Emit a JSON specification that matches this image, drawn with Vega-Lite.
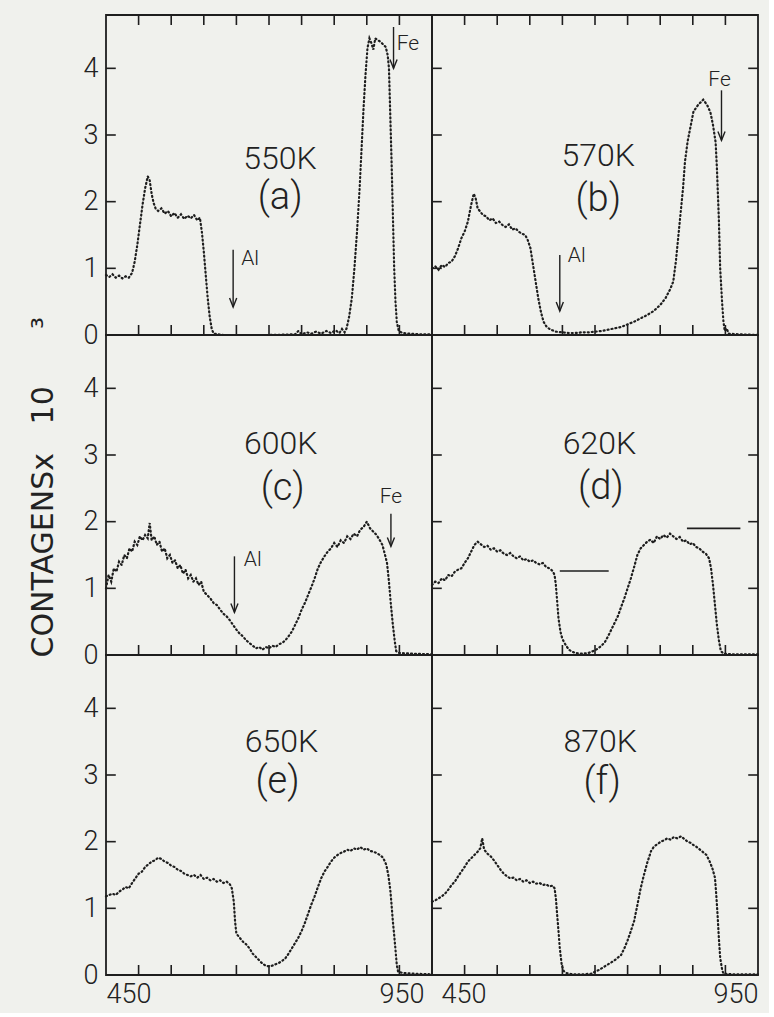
{
  "$schema": "https://vega.github.io/schema/vega-lite/v6.json",
  "background": "#f0f1ed",
  "padding": {"left": 27, "top": 14, "right": 5, "bottom": 5},
  "columns": 2,
  "spacing": 0,
  "bounds": "flush",
  "config": {
    "view": {"stroke": "#1e1e1e", "strokeWidth": 1.8, "fill": null},
    "scale": {"continuousPadding": 0},
    "axis": {
      "domain": false, "grid": false, "ticks": false,
      "labelFont": "Roboto", "labelFontWeight": 300, "labelFontSize": 27, "labelColor": "#222222", "labelPadding": 8
    }
  },
  "datasets": {
    "spec": [
      {"p":"a","ch":450,"v":0.90},{"p":"a","ch":455,"v":0.87},{"p":"a","ch":460,"v":0.91},{"p":"a","ch":465,"v":0.86},{"p":"a","ch":470,"v":0.89},{"p":"a","ch":475,"v":0.85},{"p":"a","ch":480,"v":0.88},{"p":"a","ch":485,"v":0.86},{"p":"a","ch":490,"v":0.93},{"p":"a","ch":494,"v":1.10},{"p":"a","ch":498,"v":1.35},{"p":"a","ch":502,"v":1.65},{"p":"a","ch":506,"v":1.95},{"p":"a","ch":510,"v":2.20},{"p":"a","ch":514,"v":2.38},{"p":"a","ch":517,"v":2.32},{"p":"a","ch":520,"v":2.12},{"p":"a","ch":523,"v":1.98},{"p":"a","ch":526,"v":1.90},{"p":"a","ch":530,"v":1.86},{"p":"a","ch":535,"v":1.90},{"p":"a","ch":540,"v":1.82},{"p":"a","ch":545,"v":1.86},{"p":"a","ch":550,"v":1.78},{"p":"a","ch":555,"v":1.83},{"p":"a","ch":560,"v":1.76},{"p":"a","ch":565,"v":1.81},{"p":"a","ch":570,"v":1.74},{"p":"a","ch":575,"v":1.79},{"p":"a","ch":580,"v":1.75},{"p":"a","ch":585,"v":1.80},{"p":"a","ch":590,"v":1.72},{"p":"a","ch":594,"v":1.76},{"p":"a","ch":597,"v":1.55},{"p":"a","ch":600,"v":1.25},{"p":"a","ch":603,"v":0.90},{"p":"a","ch":606,"v":0.55},{"p":"a","ch":609,"v":0.28},{"p":"a","ch":612,"v":0.10},{"p":"a","ch":615,"v":0.02},{"p":"a","ch":630,"v":0},{"p":"a","ch":660,"v":0},{"p":"a","ch":700,"v":0},{"p":"a","ch":740,"v":0.01},{"p":"a","ch":745,"v":0.06},{"p":"a","ch":750,"v":0.01},{"p":"a","ch":758,"v":0.04},{"p":"a","ch":765,"v":0.02},{"p":"a","ch":772,"v":0.05},{"p":"a","ch":780,"v":0.02},{"p":"a","ch":788,"v":0.06},{"p":"a","ch":795,"v":0.03},{"p":"a","ch":802,"v":0.07},{"p":"a","ch":808,"v":0.03},{"p":"a","ch":812,"v":0.09},{"p":"a","ch":816,"v":0.04},{"p":"a","ch":819,"v":0.10},{"p":"a","ch":823,"v":0.28},{"p":"a","ch":827,"v":0.55},{"p":"a","ch":831,"v":1.00},{"p":"a","ch":835,"v":1.55},{"p":"a","ch":839,"v":2.20},{"p":"a","ch":842,"v":2.80},{"p":"a","ch":845,"v":3.40},{"p":"a","ch":848,"v":3.90},{"p":"a","ch":851,"v":4.30},{"p":"a","ch":854,"v":4.45},{"p":"a","ch":857,"v":4.38},{"p":"a","ch":860,"v":4.28},{"p":"a","ch":863,"v":4.45},{"p":"a","ch":867,"v":4.42},{"p":"a","ch":871,"v":4.40},{"p":"a","ch":875,"v":4.36},{"p":"a","ch":879,"v":4.32},{"p":"a","ch":882,"v":4.20},{"p":"a","ch":884,"v":4.00},{"p":"a","ch":886,"v":3.30},{"p":"a","ch":888,"v":2.60},{"p":"a","ch":890,"v":1.80},{"p":"a","ch":892,"v":1.00},{"p":"a","ch":894,"v":0.50},{"p":"a","ch":896,"v":0.20},{"p":"a","ch":899,"v":0.06},{"p":"a","ch":905,"v":0.03},{"p":"a","ch":915,"v":0.02},{"p":"a","ch":930,"v":0.01},{"p":"a","ch":950,"v":0.01},

      {"p":"b","ch":450,"v":1.00},{"p":"b","ch":455,"v":1.03},{"p":"b","ch":460,"v":0.98},{"p":"b","ch":465,"v":1.05},{"p":"b","ch":470,"v":1.02},{"p":"b","ch":475,"v":1.08},{"p":"b","ch":480,"v":1.10},{"p":"b","ch":485,"v":1.18},{"p":"b","ch":490,"v":1.30},{"p":"b","ch":495,"v":1.45},{"p":"b","ch":500,"v":1.55},{"p":"b","ch":505,"v":1.70},{"p":"b","ch":510,"v":1.95},{"p":"b","ch":514,"v":2.12},{"p":"b","ch":517,"v":2.05},{"p":"b","ch":520,"v":1.90},{"p":"b","ch":524,"v":1.85},{"p":"b","ch":528,"v":1.80},{"p":"b","ch":533,"v":1.78},{"p":"b","ch":538,"v":1.72},{"p":"b","ch":543,"v":1.75},{"p":"b","ch":548,"v":1.68},{"p":"b","ch":553,"v":1.70},{"p":"b","ch":558,"v":1.65},{"p":"b","ch":563,"v":1.62},{"p":"b","ch":568,"v":1.66},{"p":"b","ch":573,"v":1.58},{"p":"b","ch":578,"v":1.60},{"p":"b","ch":583,"v":1.55},{"p":"b","ch":588,"v":1.52},{"p":"b","ch":593,"v":1.50},{"p":"b","ch":597,"v":1.42},{"p":"b","ch":601,"v":1.30},{"p":"b","ch":605,"v":1.05},{"p":"b","ch":609,"v":0.80},{"p":"b","ch":613,"v":0.55},{"p":"b","ch":617,"v":0.35},{"p":"b","ch":621,"v":0.20},{"p":"b","ch":626,"v":0.12},{"p":"b","ch":632,"v":0.08},{"p":"b","ch":640,"v":0.05},{"p":"b","ch":650,"v":0.04},{"p":"b","ch":660,"v":0.03},{"p":"b","ch":670,"v":0.03},{"p":"b","ch":680,"v":0.04},{"p":"b","ch":690,"v":0.04},{"p":"b","ch":700,"v":0.05},{"p":"b","ch":710,"v":0.06},{"p":"b","ch":720,"v":0.08},{"p":"b","ch":730,"v":0.10},{"p":"b","ch":740,"v":0.12},{"p":"b","ch":750,"v":0.16},{"p":"b","ch":760,"v":0.20},{"p":"b","ch":770,"v":0.25},{"p":"b","ch":780,"v":0.30},{"p":"b","ch":790,"v":0.36},{"p":"b","ch":800,"v":0.45},{"p":"b","ch":808,"v":0.55},{"p":"b","ch":815,"v":0.68},{"p":"b","ch":820,"v":0.80},{"p":"b","ch":824,"v":1.10},{"p":"b","ch":828,"v":1.50},{"p":"b","ch":832,"v":1.90},{"p":"b","ch":835,"v":2.20},{"p":"b","ch":838,"v":2.60},{"p":"b","ch":842,"v":2.90},{"p":"b","ch":846,"v":3.10},{"p":"b","ch":851,"v":3.35},{"p":"b","ch":858,"v":3.45},{"p":"b","ch":866,"v":3.53},{"p":"b","ch":872,"v":3.45},{"p":"b","ch":877,"v":3.34},{"p":"b","ch":881,"v":3.15},{"p":"b","ch":885,"v":2.89},{"p":"b","ch":887,"v":2.50},{"p":"b","ch":890,"v":1.73},{"p":"b","ch":892,"v":1.00},{"p":"b","ch":895,"v":0.48},{"p":"b","ch":897,"v":0.20},{"p":"b","ch":899,"v":0.06},{"p":"b","ch":902,"v":0.10},{"p":"b","ch":905,"v":0.02},{"p":"b","ch":920,"v":0.01},{"p":"b","ch":950,"v":0.0},

      {"p":"c","ch":450,"v":1.00},{"p":"c","ch":454,"v":1.20},{"p":"c","ch":458,"v":1.10},{"p":"c","ch":462,"v":1.30},{"p":"c","ch":466,"v":1.25},{"p":"c","ch":470,"v":1.40},{"p":"c","ch":474,"v":1.35},{"p":"c","ch":478,"v":1.50},{"p":"c","ch":482,"v":1.45},{"p":"c","ch":486,"v":1.60},{"p":"c","ch":490,"v":1.55},{"p":"c","ch":494,"v":1.70},{"p":"c","ch":498,"v":1.65},{"p":"c","ch":502,"v":1.78},{"p":"c","ch":506,"v":1.72},{"p":"c","ch":510,"v":1.80},{"p":"c","ch":514,"v":1.75},{"p":"c","ch":517,"v":1.98},{"p":"c","ch":520,"v":1.72},{"p":"c","ch":524,"v":1.78},{"p":"c","ch":528,"v":1.65},{"p":"c","ch":532,"v":1.70},{"p":"c","ch":536,"v":1.55},{"p":"c","ch":540,"v":1.60},{"p":"c","ch":544,"v":1.45},{"p":"c","ch":548,"v":1.50},{"p":"c","ch":552,"v":1.38},{"p":"c","ch":556,"v":1.42},{"p":"c","ch":560,"v":1.30},{"p":"c","ch":564,"v":1.35},{"p":"c","ch":568,"v":1.22},{"p":"c","ch":572,"v":1.28},{"p":"c","ch":576,"v":1.15},{"p":"c","ch":580,"v":1.20},{"p":"c","ch":584,"v":1.10},{"p":"c","ch":588,"v":1.15},{"p":"c","ch":592,"v":1.05},{"p":"c","ch":596,"v":1.10},{"p":"c","ch":600,"v":0.95},{"p":"c","ch":605,"v":0.90},{"p":"c","ch":610,"v":0.85},{"p":"c","ch":615,"v":0.78},{"p":"c","ch":620,"v":0.75},{"p":"c","ch":625,"v":0.68},{"p":"c","ch":630,"v":0.62},{"p":"c","ch":635,"v":0.58},{"p":"c","ch":640,"v":0.52},{"p":"c","ch":645,"v":0.45},{"p":"c","ch":650,"v":0.38},{"p":"c","ch":655,"v":0.32},{"p":"c","ch":660,"v":0.28},{"p":"c","ch":665,"v":0.22},{"p":"c","ch":670,"v":0.18},{"p":"c","ch":675,"v":0.14},{"p":"c","ch":680,"v":0.10},{"p":"c","ch":685,"v":0.12},{"p":"c","ch":690,"v":0.08},{"p":"c","ch":695,"v":0.12},{"p":"c","ch":700,"v":0.10},{"p":"c","ch":705,"v":0.14},{"p":"c","ch":710,"v":0.12},{"p":"c","ch":715,"v":0.16},{"p":"c","ch":720,"v":0.18},{"p":"c","ch":725,"v":0.22},{"p":"c","ch":730,"v":0.28},{"p":"c","ch":735,"v":0.35},{"p":"c","ch":740,"v":0.45},{"p":"c","ch":745,"v":0.55},{"p":"c","ch":750,"v":0.68},{"p":"c","ch":755,"v":0.78},{"p":"c","ch":760,"v":0.90},{"p":"c","ch":765,"v":1.02},{"p":"c","ch":770,"v":1.15},{"p":"c","ch":775,"v":1.30},{"p":"c","ch":780,"v":1.40},{"p":"c","ch":785,"v":1.48},{"p":"c","ch":790,"v":1.55},{"p":"c","ch":795,"v":1.60},{"p":"c","ch":800,"v":1.68},{"p":"c","ch":805,"v":1.62},{"p":"c","ch":810,"v":1.72},{"p":"c","ch":815,"v":1.68},{"p":"c","ch":820,"v":1.78},{"p":"c","ch":825,"v":1.74},{"p":"c","ch":830,"v":1.82},{"p":"c","ch":835,"v":1.78},{"p":"c","ch":840,"v":1.88},{"p":"c","ch":845,"v":1.92},{"p":"c","ch":850,"v":2.00},{"p":"c","ch":855,"v":1.90},{"p":"c","ch":860,"v":1.85},{"p":"c","ch":865,"v":1.80},{"p":"c","ch":870,"v":1.72},{"p":"c","ch":874,"v":1.65},{"p":"c","ch":878,"v":1.50},{"p":"c","ch":881,"v":1.38},{"p":"c","ch":884,"v":1.10},{"p":"c","ch":887,"v":0.75},{"p":"c","ch":890,"v":0.45},{"p":"c","ch":893,"v":0.20},{"p":"c","ch":895,"v":0.06},{"p":"c","ch":900,"v":0.03},{"p":"c","ch":920,"v":0.02},{"p":"c","ch":950,"v":0.01},

      {"p":"d","ch":450,"v":1.05},{"p":"d","ch":455,"v":1.10},{"p":"d","ch":460,"v":1.08},{"p":"d","ch":465,"v":1.15},{"p":"d","ch":470,"v":1.12},{"p":"d","ch":475,"v":1.20},{"p":"d","ch":480,"v":1.18},{"p":"d","ch":485,"v":1.25},{"p":"d","ch":490,"v":1.28},{"p":"d","ch":495,"v":1.30},{"p":"d","ch":500,"v":1.38},{"p":"d","ch":505,"v":1.45},{"p":"d","ch":510,"v":1.55},{"p":"d","ch":515,"v":1.65},{"p":"d","ch":520,"v":1.70},{"p":"d","ch":525,"v":1.66},{"p":"d","ch":530,"v":1.62},{"p":"d","ch":535,"v":1.64},{"p":"d","ch":540,"v":1.58},{"p":"d","ch":545,"v":1.60},{"p":"d","ch":550,"v":1.55},{"p":"d","ch":555,"v":1.57},{"p":"d","ch":560,"v":1.52},{"p":"d","ch":565,"v":1.50},{"p":"d","ch":570,"v":1.53},{"p":"d","ch":575,"v":1.48},{"p":"d","ch":580,"v":1.45},{"p":"d","ch":585,"v":1.48},{"p":"d","ch":590,"v":1.42},{"p":"d","ch":595,"v":1.44},{"p":"d","ch":600,"v":1.40},{"p":"d","ch":605,"v":1.42},{"p":"d","ch":610,"v":1.38},{"p":"d","ch":615,"v":1.36},{"p":"d","ch":620,"v":1.38},{"p":"d","ch":625,"v":1.32},{"p":"d","ch":630,"v":1.30},{"p":"d","ch":635,"v":1.26},{"p":"d","ch":638,"v":1.20},{"p":"d","ch":640,"v":1.05},{"p":"d","ch":642,"v":0.80},{"p":"d","ch":644,"v":0.55},{"p":"d","ch":647,"v":0.35},{"p":"d","ch":650,"v":0.24},{"p":"d","ch":655,"v":0.15},{"p":"d","ch":660,"v":0.08},{"p":"d","ch":665,"v":0.05},{"p":"d","ch":670,"v":0.03},{"p":"d","ch":680,"v":0.02},{"p":"d","ch":690,"v":0.03},{"p":"d","ch":695,"v":0.05},{"p":"d","ch":700,"v":0.07},{"p":"d","ch":705,"v":0.10},{"p":"d","ch":710,"v":0.14},{"p":"d","ch":715,"v":0.19},{"p":"d","ch":720,"v":0.28},{"p":"d","ch":725,"v":0.38},{"p":"d","ch":730,"v":0.48},{"p":"d","ch":735,"v":0.58},{"p":"d","ch":740,"v":0.72},{"p":"d","ch":745,"v":0.85},{"p":"d","ch":750,"v":1.00},{"p":"d","ch":755,"v":1.15},{"p":"d","ch":760,"v":1.32},{"p":"d","ch":765,"v":1.50},{"p":"d","ch":770,"v":1.60},{"p":"d","ch":775,"v":1.65},{"p":"d","ch":780,"v":1.70},{"p":"d","ch":785,"v":1.73},{"p":"d","ch":790,"v":1.68},{"p":"d","ch":795,"v":1.78},{"p":"d","ch":800,"v":1.74},{"p":"d","ch":805,"v":1.80},{"p":"d","ch":810,"v":1.76},{"p":"d","ch":815,"v":1.82},{"p":"d","ch":820,"v":1.78},{"p":"d","ch":825,"v":1.74},{"p":"d","ch":830,"v":1.77},{"p":"d","ch":835,"v":1.70},{"p":"d","ch":840,"v":1.72},{"p":"d","ch":845,"v":1.66},{"p":"d","ch":850,"v":1.68},{"p":"d","ch":855,"v":1.62},{"p":"d","ch":860,"v":1.60},{"p":"d","ch":865,"v":1.55},{"p":"d","ch":870,"v":1.52},{"p":"d","ch":875,"v":1.45},{"p":"d","ch":878,"v":1.30},{"p":"d","ch":881,"v":1.05},{"p":"d","ch":884,"v":0.75},{"p":"d","ch":887,"v":0.45},{"p":"d","ch":890,"v":0.22},{"p":"d","ch":893,"v":0.06},{"p":"d","ch":897,"v":0.02},{"p":"d","ch":910,"v":0.01},{"p":"d","ch":950,"v":0.01},

      {"p":"e","ch":450,"v":1.18},{"p":"e","ch":455,"v":1.20},{"p":"e","ch":460,"v":1.22},{"p":"e","ch":465,"v":1.20},{"p":"e","ch":470,"v":1.25},{"p":"e","ch":475,"v":1.28},{"p":"e","ch":480,"v":1.32},{"p":"e","ch":485,"v":1.30},{"p":"e","ch":490,"v":1.38},{"p":"e","ch":495,"v":1.45},{"p":"e","ch":500,"v":1.52},{"p":"e","ch":505,"v":1.55},{"p":"e","ch":510,"v":1.62},{"p":"e","ch":515,"v":1.66},{"p":"e","ch":520,"v":1.70},{"p":"e","ch":525,"v":1.72},{"p":"e","ch":530,"v":1.76},{"p":"e","ch":535,"v":1.74},{"p":"e","ch":540,"v":1.70},{"p":"e","ch":545,"v":1.68},{"p":"e","ch":550,"v":1.64},{"p":"e","ch":555,"v":1.62},{"p":"e","ch":560,"v":1.58},{"p":"e","ch":565,"v":1.56},{"p":"e","ch":570,"v":1.52},{"p":"e","ch":575,"v":1.50},{"p":"e","ch":580,"v":1.48},{"p":"e","ch":585,"v":1.50},{"p":"e","ch":590,"v":1.46},{"p":"e","ch":595,"v":1.50},{"p":"e","ch":600,"v":1.44},{"p":"e","ch":605,"v":1.46},{"p":"e","ch":610,"v":1.42},{"p":"e","ch":615,"v":1.44},{"p":"e","ch":620,"v":1.40},{"p":"e","ch":625,"v":1.42},{"p":"e","ch":630,"v":1.38},{"p":"e","ch":635,"v":1.40},{"p":"e","ch":640,"v":1.36},{"p":"e","ch":643,"v":1.30},{"p":"e","ch":646,"v":1.10},{"p":"e","ch":648,"v":0.80},{"p":"e","ch":650,"v":0.62},{"p":"e","ch":655,"v":0.56},{"p":"e","ch":660,"v":0.50},{"p":"e","ch":665,"v":0.46},{"p":"e","ch":670,"v":0.40},{"p":"e","ch":675,"v":0.32},{"p":"e","ch":680,"v":0.27},{"p":"e","ch":685,"v":0.22},{"p":"e","ch":690,"v":0.17},{"p":"e","ch":695,"v":0.14},{"p":"e","ch":700,"v":0.13},{"p":"e","ch":705,"v":0.14},{"p":"e","ch":710,"v":0.16},{"p":"e","ch":715,"v":0.18},{"p":"e","ch":720,"v":0.21},{"p":"e","ch":725,"v":0.25},{"p":"e","ch":730,"v":0.32},{"p":"e","ch":735,"v":0.40},{"p":"e","ch":740,"v":0.48},{"p":"e","ch":745,"v":0.56},{"p":"e","ch":750,"v":0.66},{"p":"e","ch":755,"v":0.78},{"p":"e","ch":760,"v":0.92},{"p":"e","ch":765,"v":1.06},{"p":"e","ch":770,"v":1.18},{"p":"e","ch":775,"v":1.32},{"p":"e","ch":780,"v":1.45},{"p":"e","ch":785,"v":1.55},{"p":"e","ch":790,"v":1.62},{"p":"e","ch":795,"v":1.70},{"p":"e","ch":800,"v":1.76},{"p":"e","ch":805,"v":1.80},{"p":"e","ch":810,"v":1.83},{"p":"e","ch":815,"v":1.85},{"p":"e","ch":820,"v":1.88},{"p":"e","ch":825,"v":1.86},{"p":"e","ch":830,"v":1.90},{"p":"e","ch":835,"v":1.88},{"p":"e","ch":840,"v":1.92},{"p":"e","ch":845,"v":1.88},{"p":"e","ch":850,"v":1.90},{"p":"e","ch":855,"v":1.86},{"p":"e","ch":860,"v":1.85},{"p":"e","ch":865,"v":1.83},{"p":"e","ch":870,"v":1.80},{"p":"e","ch":875,"v":1.76},{"p":"e","ch":880,"v":1.65},{"p":"e","ch":883,"v":1.50},{"p":"e","ch":886,"v":1.28},{"p":"e","ch":888,"v":1.05},{"p":"e","ch":890,"v":0.80},{"p":"e","ch":892,"v":0.60},{"p":"e","ch":894,"v":0.38},{"p":"e","ch":896,"v":0.15},{"p":"e","ch":898,"v":0.05},{"p":"e","ch":905,"v":0.03},{"p":"e","ch":920,"v":0.02},{"p":"e","ch":950,"v":0.01},

      {"p":"f","ch":450,"v":1.10},{"p":"f","ch":455,"v":1.12},{"p":"f","ch":460,"v":1.15},{"p":"f","ch":465,"v":1.18},{"p":"f","ch":470,"v":1.22},{"p":"f","ch":475,"v":1.28},{"p":"f","ch":480,"v":1.35},{"p":"f","ch":485,"v":1.40},{"p":"f","ch":490,"v":1.48},{"p":"f","ch":495,"v":1.55},{"p":"f","ch":500,"v":1.62},{"p":"f","ch":505,"v":1.70},{"p":"f","ch":510,"v":1.75},{"p":"f","ch":515,"v":1.80},{"p":"f","ch":520,"v":1.85},{"p":"f","ch":524,"v":1.90},{"p":"f","ch":527,"v":2.05},{"p":"f","ch":530,"v":1.88},{"p":"f","ch":535,"v":1.82},{"p":"f","ch":540,"v":1.78},{"p":"f","ch":545,"v":1.72},{"p":"f","ch":550,"v":1.65},{"p":"f","ch":555,"v":1.58},{"p":"f","ch":560,"v":1.52},{"p":"f","ch":565,"v":1.48},{"p":"f","ch":570,"v":1.45},{"p":"f","ch":575,"v":1.46},{"p":"f","ch":580,"v":1.42},{"p":"f","ch":585,"v":1.44},{"p":"f","ch":590,"v":1.40},{"p":"f","ch":595,"v":1.42},{"p":"f","ch":600,"v":1.38},{"p":"f","ch":605,"v":1.40},{"p":"f","ch":610,"v":1.37},{"p":"f","ch":615,"v":1.38},{"p":"f","ch":620,"v":1.35},{"p":"f","ch":625,"v":1.36},{"p":"f","ch":630,"v":1.33},{"p":"f","ch":635,"v":1.34},{"p":"f","ch":638,"v":1.30},{"p":"f","ch":640,"v":1.15},{"p":"f","ch":642,"v":0.90},{"p":"f","ch":644,"v":0.66},{"p":"f","ch":646,"v":0.40},{"p":"f","ch":649,"v":0.15},{"p":"f","ch":652,"v":0.06},{"p":"f","ch":656,"v":0.03},{"p":"f","ch":665,"v":0.01},{"p":"f","ch":680,"v":0.01},{"p":"f","ch":695,"v":0.02},{"p":"f","ch":700,"v":0.05},{"p":"f","ch":705,"v":0.07},{"p":"f","ch":710,"v":0.10},{"p":"f","ch":715,"v":0.13},{"p":"f","ch":720,"v":0.16},{"p":"f","ch":725,"v":0.19},{"p":"f","ch":730,"v":0.22},{"p":"f","ch":735,"v":0.26},{"p":"f","ch":740,"v":0.30},{"p":"f","ch":745,"v":0.40},{"p":"f","ch":750,"v":0.52},{"p":"f","ch":755,"v":0.66},{"p":"f","ch":760,"v":0.81},{"p":"f","ch":765,"v":1.05},{"p":"f","ch":770,"v":1.30},{"p":"f","ch":775,"v":1.50},{"p":"f","ch":780,"v":1.68},{"p":"f","ch":786,"v":1.86},{"p":"f","ch":790,"v":1.92},{"p":"f","ch":795,"v":1.96},{"p":"f","ch":801,"v":2.00},{"p":"f","ch":806,"v":2.02},{"p":"f","ch":811,"v":2.05},{"p":"f","ch":816,"v":2.03},{"p":"f","ch":821,"v":2.07},{"p":"f","ch":826,"v":2.05},{"p":"f","ch":832,"v":2.08},{"p":"f","ch":837,"v":2.04},{"p":"f","ch":842,"v":2.00},{"p":"f","ch":847,"v":1.98},{"p":"f","ch":851,"v":1.95},{"p":"f","ch":856,"v":1.92},{"p":"f","ch":861,"v":1.88},{"p":"f","ch":866,"v":1.84},{"p":"f","ch":871,"v":1.80},{"p":"f","ch":876,"v":1.70},{"p":"f","ch":880,"v":1.60},{"p":"f","ch":884,"v":1.46},{"p":"f","ch":886,"v":1.20},{"p":"f","ch":888,"v":0.90},{"p":"f","ch":890,"v":0.55},{"p":"f","ch":892,"v":0.26},{"p":"f","ch":895,"v":0.08},{"p":"f","ch":897,"v":0.02},{"p":"f","ch":910,"v":0.01},{"p":"f","ch":950,"v":0.01}
    ],
    "notes": [
      {"p":"a","kind":"temp","t":"550K","ch":717,"v":2.64},{"p":"a","kind":"tag","t":"(a)","ch":717,"v":2.05},
      {"p":"a","kind":"elem","t":"Al","ch":671,"v":1.14},{"p":"a","kind":"elem","t":"Fe","ch":913,"v":4.36},
      {"p":"b","kind":"temp","t":"570K","ch":705,"v":2.68},{"p":"b","kind":"tag","t":"(b)","ch":705,"v":2.03},
      {"p":"b","kind":"elem","t":"Al","ch":672,"v":1.19},{"p":"b","kind":"elem","t":"Fe","ch":891,"v":3.82},
      {"p":"c","kind":"temp","t":"600K","ch":718,"v":3.17},{"p":"c","kind":"tag","t":"(c)","ch":721,"v":2.49},
      {"p":"c","kind":"elem","t":"Al","ch":675,"v":1.42},{"p":"c","kind":"elem","t":"Fe","ch":887,"v":2.37},
      {"p":"d","kind":"temp","t":"620K","ch":707,"v":3.17},{"p":"d","kind":"tag","t":"(d)","ch":709,"v":2.50},
      {"p":"e","kind":"temp","t":"650K","ch":719,"v":3.50},{"p":"e","kind":"tag","t":"(e)","ch":713,"v":2.89},
      {"p":"f","kind":"temp","t":"870K","ch":708,"v":3.50},{"p":"f","kind":"tag","t":"(f)","ch":711,"v":2.88}
    ],
    "arrows": [
      {"p":"a","ch":645,"top":1.28,"tip":0.42},{"p":"a","ch":891,"top":4.62,"tip":4.0},
      {"p":"b","ch":646,"top":1.20,"tip":0.36},{"p":"b","ch":894,"top":3.67,"tip":2.92},
      {"p":"c","ch":647,"top":1.48,"tip":0.64},{"p":"c","ch":887,"top":2.12,"tip":1.63}
    ],
    "segs": [
      {"p":"d","ch":646,"ch2":721,"v":1.26},{"p":"d","ch":841,"ch2":923,"v":1.90}
    ],
    "scaleticks": [
      {"side":"b","at":500,"p0":0,"p1":0.15},{"side":"b","at":550,"p0":0,"p1":0.15},{"side":"b","at":600,"p0":0,"p1":0.15},{"side":"b","at":650,"p0":0,"p1":0.15},{"side":"b","at":700,"p0":0,"p1":0.15},{"side":"b","at":750,"p0":0,"p1":0.15},{"side":"b","at":800,"p0":0,"p1":0.15},{"side":"b","at":850,"p0":0,"p1":0.15},{"side":"b","at":900,"p0":0,"p1":0.15},
      {"side":"t","at":500,"p0":4.65,"p1":4.8},{"side":"t","at":550,"p0":4.65,"p1":4.8},{"side":"t","at":600,"p0":4.65,"p1":4.8},{"side":"t","at":650,"p0":4.65,"p1":4.8},{"side":"t","at":700,"p0":4.65,"p1":4.8},{"side":"t","at":750,"p0":4.65,"p1":4.8},{"side":"t","at":800,"p0":4.65,"p1":4.8},{"side":"t","at":850,"p0":4.65,"p1":4.8},{"side":"t","at":900,"p0":4.65,"p1":4.8},
      {"side":"l","at":1,"p0":450,"p1":465},{"side":"l","at":2,"p0":450,"p1":465},{"side":"l","at":3,"p0":450,"p1":465},{"side":"l","at":4,"p0":450,"p1":465},
      {"side":"r","at":1,"p0":935,"p1":950},{"side":"r","at":2,"p0":935,"p1":950},{"side":"r","at":3,"p0":935,"p1":950},{"side":"r","at":4,"p0":935,"p1":950}
    ]
  },
  "concat": [
    {
      "width": 326, "height": 320,
      "layer": [
        {"data": {"name": "spec"}, "transform": [{"filter": "datum.p == 'a'"}],
         "mark": {"type": "line", "color": "#1e1e1e", "strokeWidth": 2.2, "strokeDash": [1, 3], "strokeCap": "round"},
         "encoding": {
           "x": {"field": "ch", "type": "quantitative", "scale": {"domain": [450, 950], "nice": false, "zero": false, "padding": 0}, "axis": null},
           "y": {"field": "v", "type": "quantitative", "scale": {"domain": [0, 4.8], "nice": false, "zero": false, "padding": 0},
                 "axis": {"values": [0,1,2,3,4], "format": "d", "title": null}}}},
        {"data": {"name": "notes"}, "transform": [{"filter": "datum.p == 'a' && datum.kind == 'temp'"}],
         "mark": {"type": "text", "font": "Roboto", "fontWeight": 300, "fontSize": 32, "color": "#222222"},
         "encoding": {"x": {"field": "ch", "type": "quantitative"}, "y": {"field": "v", "type": "quantitative"}, "text": {"field": "t"}}},
        {"data": {"name": "notes"}, "transform": [{"filter": "datum.p == 'a' && datum.kind == 'tag'"}],
         "mark": {"type": "text", "font": "Roboto", "fontWeight": 300, "fontSize": 38, "color": "#222222"},
         "encoding": {"x": {"field": "ch", "type": "quantitative"}, "y": {"field": "v", "type": "quantitative"}, "text": {"field": "t"}}},
        {"data": {"name": "notes"}, "transform": [{"filter": "datum.p == 'a' && datum.kind == 'elem'"}],
         "mark": {"type": "text", "font": "Roboto", "fontWeight": 300, "fontSize": 21, "color": "#222222"},
         "encoding": {"x": {"field": "ch", "type": "quantitative"}, "y": {"field": "v", "type": "quantitative"}, "text": {"field": "t"}}},
        {"data": {"name": "arrows"}, "transform": [{"filter": "datum.p == 'a'"}],
         "mark": {"type": "rule", "color": "#1e1e1e", "strokeWidth": 1.4},
         "encoding": {"x": {"field": "ch", "type": "quantitative"}, "y": {"field": "top", "type": "quantitative"}, "y2": {"field": "tip"}}},
        {"data": {"name": "arrows"}, "transform": [{"filter": "datum.p == 'a'"}],
         "mark": {"type": "point", "shape": "M-0.4,-1L0,0L0.4,-1", "size": 320, "filled": false, "stroke": "#1e1e1e", "strokeWidth": 1.4, "opacity": 1},
         "encoding": {"x": {"field": "ch", "type": "quantitative"}, "y": {"field": "tip", "type": "quantitative"}}},
        {"data": {"name": "scaleticks"}, "transform": [{"filter": "datum.side == 'b' || datum.side == 't'"}],
         "mark": {"type": "bar", "color": "#1e1e1e", "size": 1.6},
         "encoding": {"x": {"field": "at", "type": "quantitative"}, "y": {"field": "p0", "type": "quantitative"}, "y2": {"field": "p1"}}},
        {"data": {"name": "scaleticks"}, "transform": [{"filter": "datum.side == 'l'"}],
         "mark": {"type": "bar", "color": "#1e1e1e", "size": 1.6},
         "encoding": {"y": {"field": "at", "type": "quantitative"}, "x": {"field": "p0", "type": "quantitative"}, "x2": {"field": "p1"}}}
      ]
    },
    {
      "width": 326, "height": 320,
      "layer": [
        {"data": {"name": "spec"}, "transform": [{"filter": "datum.p == 'b'"}],
         "mark": {"type": "line", "color": "#1e1e1e", "strokeWidth": 2.2, "strokeDash": [1, 3], "strokeCap": "round"},
         "encoding": {
           "x": {"field": "ch", "type": "quantitative", "scale": {"domain": [450, 950], "nice": false, "zero": false, "padding": 0}, "axis": null},
           "y": {"field": "v", "type": "quantitative", "scale": {"domain": [0, 4.8], "nice": false, "zero": false, "padding": 0}, "axis": null}}},
        {"data": {"name": "notes"}, "transform": [{"filter": "datum.p == 'b' && datum.kind == 'temp'"}],
         "mark": {"type": "text", "font": "Roboto", "fontWeight": 300, "fontSize": 32, "color": "#222222"},
         "encoding": {"x": {"field": "ch", "type": "quantitative"}, "y": {"field": "v", "type": "quantitative"}, "text": {"field": "t"}}},
        {"data": {"name": "notes"}, "transform": [{"filter": "datum.p == 'b' && datum.kind == 'tag'"}],
         "mark": {"type": "text", "font": "Roboto", "fontWeight": 300, "fontSize": 38, "color": "#222222"},
         "encoding": {"x": {"field": "ch", "type": "quantitative"}, "y": {"field": "v", "type": "quantitative"}, "text": {"field": "t"}}},
        {"data": {"name": "notes"}, "transform": [{"filter": "datum.p == 'b' && datum.kind == 'elem'"}],
         "mark": {"type": "text", "font": "Roboto", "fontWeight": 300, "fontSize": 21, "color": "#222222"},
         "encoding": {"x": {"field": "ch", "type": "quantitative"}, "y": {"field": "v", "type": "quantitative"}, "text": {"field": "t"}}},
        {"data": {"name": "arrows"}, "transform": [{"filter": "datum.p == 'b'"}],
         "mark": {"type": "rule", "color": "#1e1e1e", "strokeWidth": 1.4},
         "encoding": {"x": {"field": "ch", "type": "quantitative"}, "y": {"field": "top", "type": "quantitative"}, "y2": {"field": "tip"}}},
        {"data": {"name": "arrows"}, "transform": [{"filter": "datum.p == 'b'"}],
         "mark": {"type": "point", "shape": "M-0.4,-1L0,0L0.4,-1", "size": 320, "filled": false, "stroke": "#1e1e1e", "strokeWidth": 1.4, "opacity": 1},
         "encoding": {"x": {"field": "ch", "type": "quantitative"}, "y": {"field": "tip", "type": "quantitative"}}},
        {"data": {"name": "scaleticks"}, "transform": [{"filter": "datum.side == 'b' || datum.side == 't'"}],
         "mark": {"type": "bar", "color": "#1e1e1e", "size": 1.6},
         "encoding": {"x": {"field": "at", "type": "quantitative"}, "y": {"field": "p0", "type": "quantitative"}, "y2": {"field": "p1"}}},
        {"data": {"name": "scaleticks"}, "transform": [{"filter": "datum.side == 'l' || datum.side == 'r'"}],
         "mark": {"type": "bar", "color": "#1e1e1e", "size": 1.6},
         "encoding": {"y": {"field": "at", "type": "quantitative"}, "x": {"field": "p0", "type": "quantitative"}, "x2": {"field": "p1"}}}
      ]
    },
    {
      "width": 326, "height": 320,
      "layer": [
        {"data": {"name": "spec"}, "transform": [{"filter": "datum.p == 'c'"}],
         "mark": {"type": "line", "color": "#1e1e1e", "strokeWidth": 2.2, "strokeDash": [1, 3], "strokeCap": "round"},
         "encoding": {
           "x": {"field": "ch", "type": "quantitative", "scale": {"domain": [450, 950], "nice": false, "zero": false, "padding": 0}, "axis": null},
           "y": {"field": "v", "type": "quantitative", "scale": {"domain": [0, 4.8], "nice": false, "zero": false, "padding": 0},
                 "axis": {"values": [0,1,2,3,4], "format": "d",
                          "title": "CONTAGENSx\u00a0\u00a0\u00a010\u00a0\u00a0\u00a0\u00a0\u00a0\u00a0³", "titleFont": "DejaVu Sans", "titleFontSize": 30, "titleFontWeight": "normal",
                          "titleColor": "#222222", "titleAngle": 270, "titleAlign": "left", "titleBaseline": "alphabetic",
                          "titleX": -54, "titleY": 322}}}},
        {"data": {"name": "notes"}, "transform": [{"filter": "datum.p == 'c' && datum.kind == 'temp'"}],
         "mark": {"type": "text", "font": "Roboto", "fontWeight": 300, "fontSize": 32, "color": "#222222"},
         "encoding": {"x": {"field": "ch", "type": "quantitative"}, "y": {"field": "v", "type": "quantitative"}, "text": {"field": "t"}}},
        {"data": {"name": "notes"}, "transform": [{"filter": "datum.p == 'c' && datum.kind == 'tag'"}],
         "mark": {"type": "text", "font": "Roboto", "fontWeight": 300, "fontSize": 38, "color": "#222222"},
         "encoding": {"x": {"field": "ch", "type": "quantitative"}, "y": {"field": "v", "type": "quantitative"}, "text": {"field": "t"}}},
        {"data": {"name": "notes"}, "transform": [{"filter": "datum.p == 'c' && datum.kind == 'elem'"}],
         "mark": {"type": "text", "font": "Roboto", "fontWeight": 300, "fontSize": 21, "color": "#222222"},
         "encoding": {"x": {"field": "ch", "type": "quantitative"}, "y": {"field": "v", "type": "quantitative"}, "text": {"field": "t"}}},
        {"data": {"name": "arrows"}, "transform": [{"filter": "datum.p == 'c'"}],
         "mark": {"type": "rule", "color": "#1e1e1e", "strokeWidth": 1.4},
         "encoding": {"x": {"field": "ch", "type": "quantitative"}, "y": {"field": "top", "type": "quantitative"}, "y2": {"field": "tip"}}},
        {"data": {"name": "arrows"}, "transform": [{"filter": "datum.p == 'c'"}],
         "mark": {"type": "point", "shape": "M-0.4,-1L0,0L0.4,-1", "size": 320, "filled": false, "stroke": "#1e1e1e", "strokeWidth": 1.4, "opacity": 1},
         "encoding": {"x": {"field": "ch", "type": "quantitative"}, "y": {"field": "tip", "type": "quantitative"}}},
        {"data": {"name": "scaleticks"}, "transform": [{"filter": "datum.side == 'b'"}],
         "mark": {"type": "bar", "color": "#1e1e1e", "size": 1.6},
         "encoding": {"x": {"field": "at", "type": "quantitative"}, "y": {"field": "p0", "type": "quantitative"}, "y2": {"field": "p1"}}},
        {"data": {"name": "scaleticks"}, "transform": [{"filter": "datum.side == 'l'"}],
         "mark": {"type": "bar", "color": "#1e1e1e", "size": 1.6},
         "encoding": {"y": {"field": "at", "type": "quantitative"}, "x": {"field": "p0", "type": "quantitative"}, "x2": {"field": "p1"}}}
      ]
    },
    {
      "width": 326, "height": 320,
      "layer": [
        {"data": {"name": "spec"}, "transform": [{"filter": "datum.p == 'd'"}],
         "mark": {"type": "line", "color": "#1e1e1e", "strokeWidth": 2.2, "strokeDash": [1, 3], "strokeCap": "round"},
         "encoding": {
           "x": {"field": "ch", "type": "quantitative", "scale": {"domain": [450, 950], "nice": false, "zero": false, "padding": 0}, "axis": null},
           "y": {"field": "v", "type": "quantitative", "scale": {"domain": [0, 4.8], "nice": false, "zero": false, "padding": 0}, "axis": null}}},
        {"data": {"name": "notes"}, "transform": [{"filter": "datum.p == 'd' && datum.kind == 'temp'"}],
         "mark": {"type": "text", "font": "Roboto", "fontWeight": 300, "fontSize": 32, "color": "#222222"},
         "encoding": {"x": {"field": "ch", "type": "quantitative"}, "y": {"field": "v", "type": "quantitative"}, "text": {"field": "t"}}},
        {"data": {"name": "notes"}, "transform": [{"filter": "datum.p == 'd' && datum.kind == 'tag'"}],
         "mark": {"type": "text", "font": "Roboto", "fontWeight": 300, "fontSize": 38, "color": "#222222"},
         "encoding": {"x": {"field": "ch", "type": "quantitative"}, "y": {"field": "v", "type": "quantitative"}, "text": {"field": "t"}}},
        {"data": {"name": "segs"}, "transform": [{"filter": "datum.p == 'd'"}],
         "mark": {"type": "rule", "color": "#1e1e1e", "strokeWidth": 1.6},
         "encoding": {"x": {"field": "ch", "type": "quantitative"}, "x2": {"field": "ch2"}, "y": {"field": "v", "type": "quantitative"}}},
        {"data": {"name": "scaleticks"}, "transform": [{"filter": "datum.side == 'b'"}],
         "mark": {"type": "bar", "color": "#1e1e1e", "size": 1.6},
         "encoding": {"x": {"field": "at", "type": "quantitative"}, "y": {"field": "p0", "type": "quantitative"}, "y2": {"field": "p1"}}},
        {"data": {"name": "scaleticks"}, "transform": [{"filter": "datum.side == 'l' || datum.side == 'r'"}],
         "mark": {"type": "bar", "color": "#1e1e1e", "size": 1.6},
         "encoding": {"y": {"field": "at", "type": "quantitative"}, "x": {"field": "p0", "type": "quantitative"}, "x2": {"field": "p1"}}}
      ]
    },
    {
      "width": 326, "height": 320,
      "layer": [
        {"data": {"name": "spec"}, "transform": [{"filter": "datum.p == 'e'"}],
         "mark": {"type": "line", "color": "#1e1e1e", "strokeWidth": 2.2, "strokeDash": [1, 3], "strokeCap": "round"},
         "encoding": {
           "x": {"field": "ch", "type": "quantitative", "scale": {"domain": [450, 950], "nice": false, "zero": false, "padding": 0},
                 "axis": {"values": [450, 950], "format": "d", "title": null, "labelPadding": 6, "labelFlush": false,
                          "labelAlign": {"condition": {"test": "datum.value == 950", "value": "right"}, "value": "left"},
                          "labelOffset": {"condition": {"test": "datum.value == 950", "value": -8}, "value": 0}}},
           "y": {"field": "v", "type": "quantitative", "scale": {"domain": [0, 4.8], "nice": false, "zero": false, "padding": 0},
                 "axis": {"values": [0,1,2,3,4], "format": "d", "title": null}}}},
        {"data": {"name": "notes"}, "transform": [{"filter": "datum.p == 'e' && datum.kind == 'temp'"}],
         "mark": {"type": "text", "font": "Roboto", "fontWeight": 300, "fontSize": 32, "color": "#222222"},
         "encoding": {"x": {"field": "ch", "type": "quantitative"}, "y": {"field": "v", "type": "quantitative"}, "text": {"field": "t"}}},
        {"data": {"name": "notes"}, "transform": [{"filter": "datum.p == 'e' && datum.kind == 'tag'"}],
         "mark": {"type": "text", "font": "Roboto", "fontWeight": 300, "fontSize": 38, "color": "#222222"},
         "encoding": {"x": {"field": "ch", "type": "quantitative"}, "y": {"field": "v", "type": "quantitative"}, "text": {"field": "t"}}},
        {"data": {"name": "scaleticks"}, "transform": [{"filter": "datum.side == 'b'"}],
         "mark": {"type": "bar", "color": "#1e1e1e", "size": 1.6},
         "encoding": {"x": {"field": "at", "type": "quantitative"}, "y": {"field": "p0", "type": "quantitative"}, "y2": {"field": "p1"}}},
        {"data": {"name": "scaleticks"}, "transform": [{"filter": "datum.side == 'l'"}],
         "mark": {"type": "bar", "color": "#1e1e1e", "size": 1.6},
         "encoding": {"y": {"field": "at", "type": "quantitative"}, "x": {"field": "p0", "type": "quantitative"}, "x2": {"field": "p1"}}}
      ]
    },
    {
      "width": 326, "height": 320,
      "layer": [
        {"data": {"name": "spec"}, "transform": [{"filter": "datum.p == 'f'"}],
         "mark": {"type": "line", "color": "#1e1e1e", "strokeWidth": 2.2, "strokeDash": [1, 3], "strokeCap": "round"},
         "encoding": {
           "x": {"field": "ch", "type": "quantitative", "scale": {"domain": [450, 950], "nice": false, "zero": false, "padding": 0},
                 "axis": {"values": [450, 950], "format": "d", "title": null, "labelPadding": 6, "labelFlush": false,
                          "labelAlign": {"condition": {"test": "datum.value == 950", "value": "right"}, "value": "left"},
                          "labelOffset": {"condition": {"test": "datum.value == 450", "value": 9}, "value": 0}}},
           "y": {"field": "v", "type": "quantitative", "scale": {"domain": [0, 4.8], "nice": false, "zero": false, "padding": 0}, "axis": null}}},
        {"data": {"name": "notes"}, "transform": [{"filter": "datum.p == 'f' && datum.kind == 'temp'"}],
         "mark": {"type": "text", "font": "Roboto", "fontWeight": 300, "fontSize": 32, "color": "#222222"},
         "encoding": {"x": {"field": "ch", "type": "quantitative"}, "y": {"field": "v", "type": "quantitative"}, "text": {"field": "t"}}},
        {"data": {"name": "notes"}, "transform": [{"filter": "datum.p == 'f' && datum.kind == 'tag'"}],
         "mark": {"type": "text", "font": "Roboto", "fontWeight": 300, "fontSize": 38, "color": "#222222"},
         "encoding": {"x": {"field": "ch", "type": "quantitative"}, "y": {"field": "v", "type": "quantitative"}, "text": {"field": "t"}}},
        {"data": {"name": "scaleticks"}, "transform": [{"filter": "datum.side == 'b'"}],
         "mark": {"type": "bar", "color": "#1e1e1e", "size": 1.6},
         "encoding": {"x": {"field": "at", "type": "quantitative"}, "y": {"field": "p0", "type": "quantitative"}, "y2": {"field": "p1"}}},
        {"data": {"name": "scaleticks"}, "transform": [{"filter": "datum.side == 'l' || datum.side == 'r'"}],
         "mark": {"type": "bar", "color": "#1e1e1e", "size": 1.6},
         "encoding": {"y": {"field": "at", "type": "quantitative"}, "x": {"field": "p0", "type": "quantitative"}, "x2": {"field": "p1"}}}
      ]
    }
  ]
}
